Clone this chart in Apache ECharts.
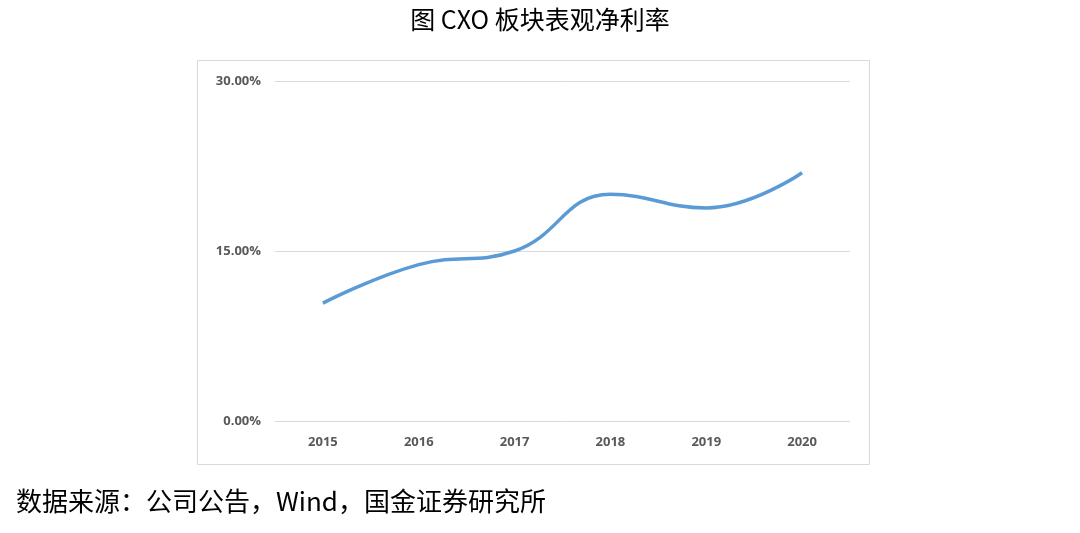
<!DOCTYPE html>
<html><head><meta charset="utf-8">
<script src="https://cdn.jsdelivr.net/npm/echarts@6/dist/echarts.min.js"></script>
<style>html,body{margin:0;padding:0;background:#fff}#c{width:1080px;height:533px}</style>
</head><body><div id="c"></div>
<script>
const categories = ['2015','2016','2017','2018','2019','2020'];
const netMargin = [10.4, 13.8, 15.0, 20.0, 18.8, 21.9];
const yTicks = [0, 15, 30];
const chart = echarts.init(document.getElementById('c'));
chart.setOption({
  animation:false,
  title:{text:'图 CXO 板块表观净利率',left:'center',top:2,textStyle:{fontFamily:'Noto Sans CJK SC',fontSize:25,fontWeight:'normal',color:'#000'}},
  graphic:[
    {type:'rect',shape:{x:197.5,y:60.5,width:672,height:404},style:{fill:'none',stroke:'#d9d9d9',lineWidth:1}},
    {type:'text',left:16,top:488,style:{text:'数据来源：公司公告，Wind，国金证券研究所',font:'26px "Noto Sans CJK SC"',fill:'#000'}}
  ],
  grid:{left:275,right:230,top:81,bottom:112},
  xAxis:{type:'category',data:categories,boundaryGap:true,axisLine:{show:false},axisTick:{show:false},
    axisLabel:{fontFamily:'Open Sans',fontWeight:'bold',fontSize:13,color:'#595959',margin:15}},
  yAxis:{type:'value',min:yTicks[0],max:yTicks[2],interval:15,
    axisLabel:{formatter:v=>v.toFixed(2)+'%',fontFamily:'Open Sans',fontWeight:'bold',fontSize:13,color:'#595959',margin:14},
    splitLine:{lineStyle:{color:'#d9d9d9'}}},
  series:[{type:'line',data:netMargin,smooth:0.45,symbol:'none',lineStyle:{color:'#5B9BD5',width:3.5}}]
});
</script></body></html>
